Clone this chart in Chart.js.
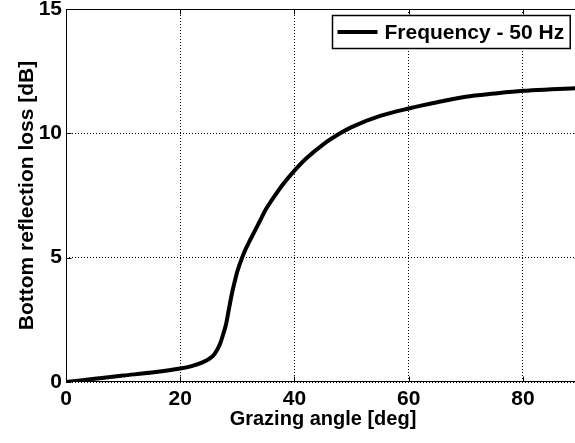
<!DOCTYPE html>
<html>
<head>
<meta charset="utf-8">
<script src="https://cdn.jsdelivr.net/npm/chart.js@4/dist/chart.umd.min.js"></script>
<style>
  html, body { margin: 0; padding: 0; background: #fff; overflow: hidden; }
  #wrap { width: 575px; height: 443px; overflow: hidden; }
</style>
</head>
<body>
<div id="wrap"><canvas id="loss-chart" width="581" height="443"></canvas></div>
<script>
// Bottom reflection loss vs grazing angle, 50 Hz
const ANGLES = [0, 5, 10, 15, 20, 22, 24, 25, 26, 27, 27.5, 28, 28.5, 29, 29.5, 30,
  31, 32, 33, 34, 35, 36, 38, 40, 42, 45, 48, 50, 55, 60, 65, 70, 75, 80, 85, 90];
const LOSS_DB = [0, 0.13, 0.26, 0.38, 0.54, 0.64, 0.8, 0.92, 1.12, 1.55, 1.9, 2.3, 2.9, 3.5, 4.0, 4.45,
  5.1, 5.6, 6.05, 6.5, 6.95, 7.3, 7.95, 8.5, 8.98, 9.55, 10.0, 10.25, 10.7, 11.0, 11.25, 11.47, 11.6, 11.71, 11.77, 11.82];
const X_TICKS = [0, 20, 40, 60, 80];
const Y_TICKS = [0, 5, 10, 15];
const SERIES_LABEL = "Frequency - 50 Hz";

const FAMILY = "'Liberation Sans', Arial, sans-serif";
const TICK_FONT = { family: FAMILY, size: 21, weight: "bold" };
const X_TITLE_FONT = { family: FAMILY, size: 20, weight: "bold" };
const Y_TITLE_FONT = { family: FAMILY, size: 21, weight: "bold" };

// MATLAB-style box around the axes with inward tick marks, plus boxed legend
const axesBox = {
  id: "axesBox",
  afterDraw(chart) {
    const { ctx, chartArea: a, scales } = chart;
    const L = Math.round(a.left) + 0.5, R = Math.round(a.right) - 0.5;
    const T = Math.round(a.top) + 0.5, B = Math.round(a.bottom) - 0.5;
    ctx.save();
    ctx.strokeStyle = "#000";
    ctx.lineWidth = 1;
    ctx.setLineDash([]);
    ctx.strokeRect(L, T, R - L, B - T);
    ctx.beginPath();
    X_TICKS.forEach(v => {
      const px = Math.round(scales.x.getPixelForValue(v)) + 0.5;
      ctx.moveTo(px, B); ctx.lineTo(px, B - 5);
      ctx.moveTo(px, T); ctx.lineTo(px, T + 5);
    });
    Y_TICKS.forEach(v => {
      const py = Math.round(scales.y.getPixelForValue(v)) + 0.5;
      ctx.moveTo(L, py); ctx.lineTo(L + 5, py);
      ctx.moveTo(R, py); ctx.lineTo(R - 5, py);
    });
    ctx.stroke();

    // legend
    ctx.font = `bold 21px ${FAMILY}`;
    const tw = ctx.measureText(SERIES_LABEL).width;
    const bw = 5 + 40 + 7 + tw + 6, bh = 33;
    const bx = Math.round(a.right - 10 - bw) + 0.5, by = Math.round(a.top + 6) + 0.5;
    ctx.fillStyle = "#fff";
    ctx.fillRect(bx, by, bw, bh);
    ctx.lineWidth = 1.5;
    ctx.strokeRect(bx, by, bw, bh);
    ctx.beginPath();
    ctx.lineWidth = 4;
    ctx.moveTo(bx + 5, by + bh / 2);
    ctx.lineTo(bx + 45, by + bh / 2);
    ctx.stroke();
    ctx.fillStyle = "#000";
    ctx.textBaseline = "middle";
    ctx.fillText(SERIES_LABEL, bx + 52, by + bh / 2 + 1);
    ctx.restore();
  }
};

Chart.defaults.color = "#000";
Chart.defaults.font = TICK_FONT;

new Chart(document.getElementById("loss-chart").getContext("2d"), {
  type: "line",
  data: {
    datasets: [{
      label: SERIES_LABEL,
      data: ANGLES.map((a, i) => ({ x: a, y: LOSS_DB[i] })),
      borderColor: "#000",
      borderWidth: 4,
      pointRadius: 0,
      cubicInterpolationMode: "monotone",
      fill: false,
    }]
  },
  options: {
    responsive: false,
    animation: false,
    layout: { padding: { top: 9, right: 1, left: 0, bottom: 0 } },
    scales: {
      x: {
        type: "linear",
        min: 0,
        max: 90,
        afterFit: s => { s.height = 61; s.paddingLeft = 0; s.paddingRight = 0; },
        ticks: { stepSize: 20, includeBounds: false, padding: 5, font: TICK_FONT },
        grid: { color: "#000", lineWidth: 1, drawTicks: false },
        border: { display: false, dash: [1, 2] },
        title: { display: true, text: "Grazing angle [deg]", font: X_TITLE_FONT, padding: { top: 0, bottom: 12 } },
      },
      y: {
        min: 0,
        max: 15,
        afterFit: s => { s.width = 66; s.paddingTop = 0; s.paddingBottom = 0; },
        ticks: { stepSize: 5, padding: 4, font: TICK_FONT },
        grid: { color: "#000", lineWidth: 1, drawTicks: false },
        border: { display: false, dash: [1, 2] },
        title: { display: true, text: "Bottom reflection loss [dB]", font: Y_TITLE_FONT, padding: { top: 15, bottom: 0 } },
      },
    },
    plugins: {
      legend: { display: false },
      tooltip: { enabled: false },
    }
  },
  plugins: [axesBox]
});
</script>
</body>
</html>
